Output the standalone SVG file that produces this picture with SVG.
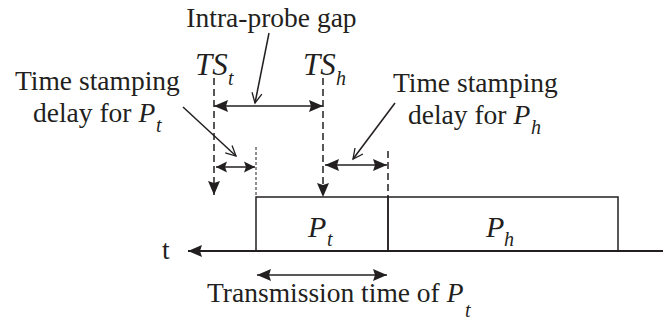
<svg xmlns="http://www.w3.org/2000/svg" width="663" height="322" viewBox="0 0 663 322">
<style>
text{font-family:"Liberation Serif","Times New Roman",serif;fill:#231f20}
.lbl{font-size:27.5px}
.it{font-style:italic}
.big{font-size:31px;font-style:italic}
.bp{font-size:30px;font-style:italic}
.sub{font-size:20px;font-style:italic}
.ln{stroke:#231f20;stroke-width:1.5;fill:none}
.dash{stroke:#231f20;stroke-width:1.5;fill:none;stroke-dasharray:7,4}
.dot{stroke:#231f20;stroke-width:1;fill:none;stroke-dasharray:3,2}
</style>
<defs>
<marker id="ah" markerUnits="userSpaceOnUse" markerWidth="15" markerHeight="12" refX="14" refY="6" orient="auto-start-reverse" overflow="visible">
<path d="M0,0 L14,6 L0,12 L2,6 Z" fill="#231f20" stroke="none"/>
</marker>
<marker id="ahs" markerUnits="userSpaceOnUse" markerWidth="12" markerHeight="11" refX="11" refY="5.5" orient="auto-start-reverse" overflow="visible">
<path d="M0,0 L11,5.5 L0,11 L2,5.5 Z" fill="#231f20" stroke="none"/>
</marker>
<marker id="open" markerUnits="userSpaceOnUse" markerWidth="12" markerHeight="12" refX="10" refY="5" orient="auto" overflow="visible">
<path d="M0,0 L10,5 L0,10" fill="none" stroke="#231f20" stroke-width="1.3"/>
</marker>
</defs>

<g id="packets">
<rect id="Pt-box" x="256" y="197" width="132" height="54" class="ln"/>
<rect id="Ph-box" x="388" y="197" width="230" height="54" class="ln"/>
</g>

<g id="connectors">
<line id="axis" x1="663" y1="251" x2="188" y2="251" stroke="#231f20" stroke-width="2.2" marker-end="url(#ah)"/>
<line id="ts-t-line" x1="214" y1="78" x2="214" y2="195" class="dash" marker-end="url(#ah)"/>
<line id="ts-h-line" x1="323" y1="78" x2="323" y2="197" class="dash" marker-end="url(#ah)"/>
<line id="pt-start" x1="256" y1="147" x2="256" y2="197" class="dot"/>
<line id="pt-end" x1="388" y1="151" x2="388" y2="197" class="dash"/>
<line id="gap-arrow" x1="214" y1="106" x2="323" y2="106" class="ln" marker-start="url(#ah)" marker-end="url(#ah)"/>
<line id="delay-t" x1="216" y1="167" x2="255" y2="167" class="ln" marker-start="url(#ahs)" marker-end="url(#ahs)"/>
<line id="delay-h" x1="325" y1="165" x2="387" y2="165" class="ln" marker-start="url(#ah)" marker-end="url(#ah)"/>
<line id="tx-arrow" x1="257" y1="275" x2="387" y2="275" class="ln" marker-start="url(#ah)" marker-end="url(#ah)"/>
<line id="gap-pointer" x1="269" y1="33" x2="255" y2="103" class="ln" stroke-width="1.3" marker-end="url(#open)"/>
<line id="delay-t-pointer" x1="183" y1="107" x2="236" y2="156" class="ln" stroke-width="1.3" marker-end="url(#open)"/>
<line id="delay-h-pointer" x1="395" y1="103" x2="353" y2="159" class="ln" stroke-width="1.3" marker-end="url(#open)"/>
</g>

<g id="label-gap">
<text class="lbl" x="271.5" y="27" text-anchor="middle">Intra-probe gap</text>
</g>
<g id="label-TSt">
<text class="big" x="195" y="75">TS</text>
<text class="sub" x="228" y="85">t</text>
</g>
<g id="label-TSh">
<text class="big" x="303" y="75">TS</text>
<text class="sub" x="336" y="85">h</text>
</g>
<g id="label-delay-t">
<text class="lbl" x="15" y="90">Time stamping</text>
<text class="lbl" x="33" y="122">delay for <tspan class="it">P</tspan></text>
<text class="sub" x="156" y="132">t</text>
</g>
<g id="label-delay-h">
<text class="lbl" x="393" y="92">Time stamping</text>
<text class="lbl" x="408" y="124">delay for <tspan class="it">P</tspan></text>
<text class="sub" x="531" y="134">h</text>
</g>
<g id="label-Pt">
<text class="bp" x="308" y="237">P</text>
<text class="sub" x="327" y="246">t</text>
</g>
<g id="label-Ph">
<text class="bp" x="486" y="237">P</text>
<text class="sub" x="504" y="246">h</text>
</g>
<g id="label-axis">
<text class="lbl" x="162" y="259">t</text>
</g>
<g id="label-tx">
<text class="lbl" x="207" y="302">Transmission time of <tspan class="it">P</tspan></text>
<text class="sub" x="465" y="317">t</text>
</g>
</svg>
